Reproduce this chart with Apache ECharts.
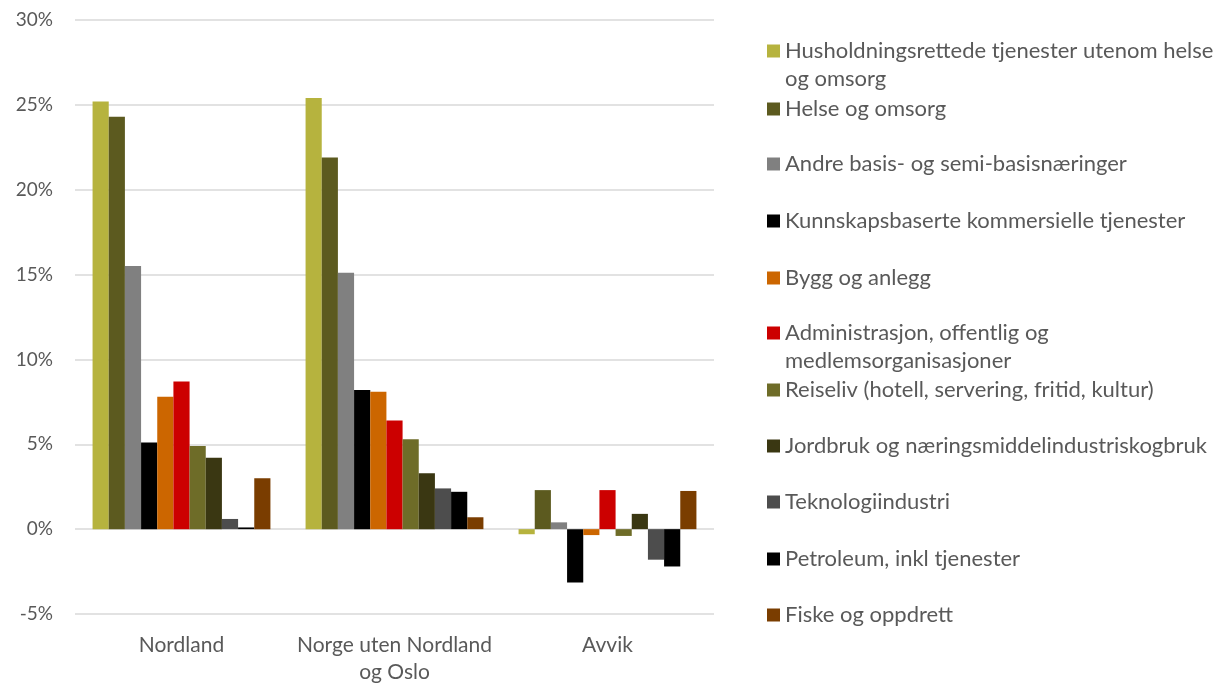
<!DOCTYPE html>
<html>
<head>
<meta charset="utf-8">
<script src="https://cdn.jsdelivr.net/npm/echarts@6/dist/echarts.min.js"></script>
<style>html,body{margin:0;padding:0;background:#fff;}#c{width:1227px;height:683px;}</style>
</head>
<body>
<div id="c"></div>
<script>
const categories = ['Nordland', 'Norge uten Nordland\nog Oslo', 'Avvik'];
const seriesNames = [
  'Husholdningsrettede tjenester utenom helse og omsorg',
  'Helse og omsorg',
  'Andre basis- og semi-basisnæringer',
  'Kunnskapsbaserte kommersielle tjenester',
  'Bygg og anlegg',
  'Administrasjon, offentlig og medlemsorganisasjoner',
  'Reiseliv (hotell, servering, fritid, kultur)',
  'Jordbruk og næringsmiddelindustriskogbruk',
  'Teknologiindustri',
  'Petroleum, inkl tjenester',
  'Fiske og oppdrett'
];
const legendLabels = [
  'Husholdningsrettede tjenester utenom helse\nog omsorg',
  'Helse og omsorg',
  'Andre basis- og semi-basisnæringer',
  'Kunnskapsbaserte kommersielle tjenester',
  'Bygg og anlegg',
  'Administrasjon, offentlig og\nmedlemsorganisasjoner',
  'Reiseliv (hotell, servering, fritid, kultur)',
  'Jordbruk og næringsmiddelindustriskogbruk',
  'Teknologiindustri',
  'Petroleum, inkl tjenester',
  'Fiske og oppdrett'
];
const colors = ['#B6B33E','#5C5A1F','#808080','#000000','#CC6600','#CC0000','#6E6C28','#3A3712','#4D4D4D','#000000','#7A3D00'];
// values per category (percent), in series order
const nordland = [25.2, 24.3, 15.5, 5.1, 7.8, 8.7, 4.9, 4.2, 0.6, 0.1, 3.0];
const norge    = [25.4, 21.9, 15.1, 8.2, 8.1, 6.4, 5.3, 3.3, 2.4, 2.2, 0.7];
const avvik    = [-0.3, 2.3, 0.4, -3.15, -0.35, 2.3, -0.4, 0.9, -1.8, -2.2, 2.25];
const yTicks = { min: -5, max: 30, interval: 5 };

const FONT = 'Lato, "Noto Sans", sans-serif';
const TXT = '#595959';
const legendCenters = [51, 109, 164, 221, 278, 333, 390, 446, 502, 559, 615];
const LH = 28;

const legends = seriesNames.map((name, i) => {
  const two = legendLabels[i].indexOf('\n') >= 0;
  return {
    data: [name],
    orient: 'vertical',
    left: 767,
    top: legendCenters[i] - (two ? 1.5 * LH : 0.5 * LH),
    padding: 0,
    icon: 'rect',
    itemWidth: 13,
    itemHeight: 13,
    itemGap: 0,
    selectedMode: false,
    formatter: () => (two ? '\n' : '') + legendLabels[i],
    textStyle: { color: TXT, fontSize: 22, fontFamily: FONT, lineHeight: LH }
  };
});

const chart = echarts.init(document.getElementById('c'));
chart.setOption({
  animation: false,
  backgroundColor: '#fff',
  grid: { left: 75, right: 513, top: 20, bottom: 69, containLabel: false, outerBoundsMode: 'none' },
  legend: legends,
  xAxis: {
    type: 'category',
    data: categories,
    axisLine: { show: false, onZero: false },
    axisTick: { show: false },
    axisLabel: { interval: 0, color: TXT, fontSize: 21, fontFamily: FONT, margin: 18, lineHeight: 27 }
  },
  yAxis: {
    type: 'value',
    min: yTicks.min, max: yTicks.max, interval: yTicks.interval,
    axisLine: { show: false },
    axisTick: { show: false },
    splitLine: { lineStyle: { color: '#D9D9D9', width: 1.5 } },
    axisLabel: { color: TXT, fontSize: 19, fontFamily: FONT, margin: 22, formatter: '{value}%' }
  },
  series: seriesNames.map((name, i) => ({
    name: name,
    type: 'bar',
    data: [nordland[i], norge[i], avvik[i]],
    barGap: 0,
    barCategoryGap: '16.5%',
    itemStyle: { color: colors[i] }
  }))
});
</script>
</body>
</html>
